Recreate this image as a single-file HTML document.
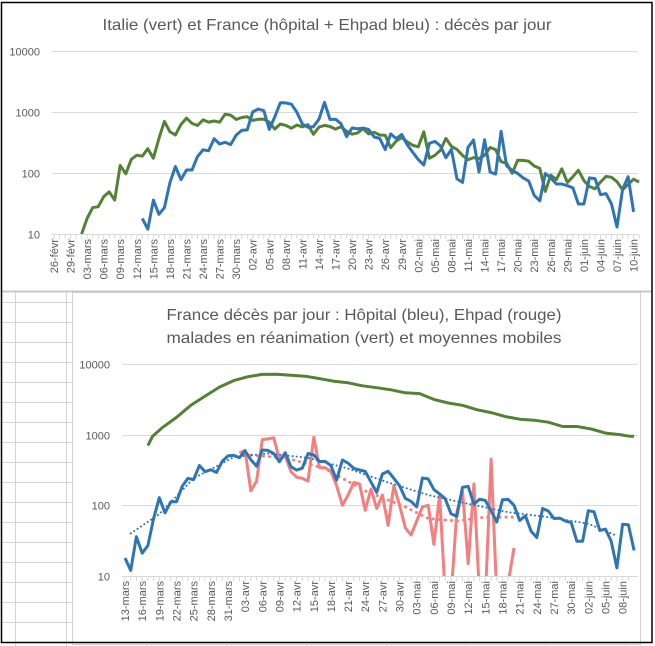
<!DOCTYPE html>
<html><head><meta charset="utf-8"><style>
html,body{margin:0;padding:0;background:#fff;}
svg{display:block;font-family:"Liberation Sans",sans-serif;}
</style></head><body>
<svg id="s" width="655" height="646" xmlns="http://www.w3.org/2000/svg">
<defs>
<clipPath id="c1"><rect x="40" y="40" width="600" height="194"/></clipPath>
<clipPath id="c2"><rect x="110" y="350" width="530" height="226"/></clipPath>
</defs>
<rect x="0" y="0" width="655" height="646" fill="#fff"/>
<g id="bg" stroke="#d4d4d4" stroke-width="1"></g>
<rect x="72.5" y="292.5" width="568" height="352" fill="#fff" stroke="#d0d0d0"/>
<rect x="2.5" y="2.5" width="650" height="289" fill="#fff" stroke="none"/>
<line x1="2" y1="291.5" x2="652" y2="291.5" stroke="#c8c8c8" stroke-width="2"/>
<rect x="1.5" y="2.5" width="650.5" height="640" fill="none" stroke="#000" stroke-width="1.5"/>
<text x="327" y="30" text-anchor="middle" font-size="16" fill="#595959" textLength="449" lengthAdjust="spacingAndGlyphs">Italie (vert) et France (hôpital + Ehpad bleu) : décès par jour</text>
<text x="364" y="320" text-anchor="middle" font-size="16" fill="#595959" textLength="395" lengthAdjust="spacingAndGlyphs">France décès par jour : Hôpital (bleu), Ehpad (rouge)</text>
<text x="364" y="343" text-anchor="middle" font-size="16" fill="#595959" textLength="395" lengthAdjust="spacingAndGlyphs">malades en réanimation (vert) et moyennes mobiles</text>
<g id="g"></g>
</svg>
<script>
var NS="http://www.w3.org/2000/svg",S=document.getElementById('g'),BG=document.getElementById('bg');
function el(p,t,a,txt){var e=document.createElementNS(NS,t);for(var k in a)e.setAttribute(k,a[k]);if(txt!=null)e.textContent=txt;p.appendChild(e);return e;}
for(var y=302;y<646;y+=20)el(BG,'line',{x1:0,y1:y+.5,x2:72,y2:y+.5});
[15,66].forEach(function(x){el(BG,'line',{x1:x+.5,y1:292,x2:x+.5,y2:646});});
[146,226,306,386,465,545,625].forEach(function(x){el(BG,'line',{x1:x+.5,y1:643,x2:x+.5,y2:646});});
var cum=[0,31,60,91,121,152];
function doy(m,d){return cum[m-1]+d;}
var mn={3:'mars',4:'avr',5:'mai',6:'juin',2:'févr'};
function lab(m,d){return (d<10?'0':'')+d+'-'+mn[m];}
function dateOf(n){for(var m=6;m>=1;m--)if(n>cum[m-1])return [m,n-cum[m-1]];}
var X1=function(n){return 54+(n-57)*5.52},Y1=function(v){return 234-61*Math.log10(Math.max(v,1)/10)};
var X2=function(n){return 125+(n-73)*5.72},Y2=function(v){return 576-70.7*Math.log10(Math.max(v,1)/10)};
function axes(X,Y,y0,start,end,xl,xr,lx){
 [10,100,1000,10000].forEach(function(v){var y=Math.round(Y(v))+.5;
  el(S,'line',{x1:xl,y1:y,x2:xr,y2:y,stroke:'#d9d9d9','stroke-width':1});
  el(S,'text',{x:lx,y:y+4,'text-anchor':'end','font-size':11,fill:'#595959'},String(v));});
 for(var n=start;n<=end;n++){var x=X(n);el(S,'line',{x1:x,y1:y0,x2:x,y2:y0+5,stroke:'#d9d9d9'});}
 for(var n=start;n<=end;n+=3){var d=dateOf(n),x=X(n)+4;
  el(S,'text',{x:0,y:0,transform:'translate('+x+','+(y0+5)+') rotate(-90)','text-anchor':'end','font-size':11,fill:'#595959'},lab(d[0],d[1]));}
}
axes(X1,Y1,234,57,163,52,638,40);
axes(X2,Y2,576,73,161,122,638,110);
function line(X,Y,start,vals,col,w,clip,dash){var p=[];vals.forEach(function(v,i){if(v!=null)p.push(X(start+i).toFixed(1)+','+Y(v).toFixed(1));});
 var a={points:p.join(' '),fill:'none',stroke:col,'stroke-width':w,'stroke-linejoin':'round','clip-path':'url(#'+clip+')'};if(dash){a['stroke-dasharray']=dash;a['stroke-linecap']='round';}
 el(S,'polyline',a);}
var it=[10,18,27,28,41,49,36,133,97,168,196,189,250,175,368,700,475,420,627,793,651,601,743,683,712,680,919,889,756,812,837,727,760,766,681,525,636,604,542,610,570,619,431,566,602,578,525,575,482,433,454,534,437,464,420,415,260,333,382,323,285,269,474,174,195,236,369,274,243,194,165,179,172,195,262,242,153,145,99,162,161,156,130,119,50,92,78,117,70,87,111,75,60,55,71,88,85,72,53,65,79,71];
var fr1=[18,12,36,21,27,69,128,78,112,112,186,240,231,365,299,319,292,418,499,509,1000,1120,1050,518,833,1417,1410,1340,987,635,561,574,762,1438,753,761,642,395,547,531,544,516,389,369,242,437,367,427,289,218,166,135,306,330,278,178,243,80,70,263,348,104,351,104,96,483,131,110,98,83,74,43,35,98,83,66,66,62,57,31,31,83,81,44,46,31,13,54,87,23];
var GR='#548235',BL='#2e75b6',RD='#f47f7f';
line(X1,Y1,doy(3,2),it,GR,3,'c1');
line(X1,Y1,doy(3,13),fr1,BL,3,'c1');
var gk=[[77,700],[78,950],[80,1250],[83,1750],[86,2600],[89,3500],[92,4700],[95,5800],[98,6600],[101,7100],[104,7150],[107,6900],[110,6700],[113,6200],[116,5700],[119,5400],[122,4900],[125,4600],[128,4300],[131,3900],[134,3800],[137,3150],[140,2800],[143,2600],[146,2250],[149,2050],[152,1800],[155,1650],[158,1600],[161,1500],[164,1300],[167,1300],[170,1200],[173,1050],[176,1000],[178,950],[179,950]];
var gpts=[];gk.forEach(function(k){var t=(k[0]-77)/(179-77);gpts.push(X2(77+t*(162-77)).toFixed(1)+','+Y2(k[1]).toFixed(1));});
el(S,'polyline',{points:gpts.join(' '),fill:'none',stroke:GR,'stroke-width':3,'stroke-linejoin':'round'});
var fr2=[18,12,36,21,27,65,128,78,112,112,186,240,231,365,299,319,292,418,499,509,471,588,441,357,605,597,541,412,554,353,315,335,541,514,417,418,364,227,437,394,333,316,303,213,152,277,304,241,189,125,114,95,243,236,167,145,123,76,70,180,185,104,122,117,84,58,120,121,100,61,71,43,35,90,83,65,66,60,57,31,31,84,81,44,46,31,13,54,53,23];
var rd=[550,600,160,220,850,870,900,450,500,300,250,240,220,920,340,340,300,190,100,140,210,200,85,170,90,140,52,190,100,48,38,60,95,100,28,140,5,5,80,160,15,200,5,5,450,5,null,8,25];
line(X2,Y2,doy(4,2),rd,RD,3,'c2');
var rm=[[doy(4,3),520],[doy(4,10),470],[doy(4,17),330],[doy(4,24),160],[doy(5,1),95],[doy(5,5),65],[doy(5,10),60],[doy(5,15),68],[doy(5,21),68]];
el(S,'polyline',{points:rm.map(function(k){return X2(k[0]).toFixed(1)+','+Y2(k[1]).toFixed(1)}).join(' '),fill:'none',stroke:RD,'stroke-width':3,'stroke-dasharray':'0.1 6','stroke-linecap':'round'});
line(X2,Y2,doy(3,13),fr2,BL,3,'c2');
var bm=[[doy(3,14),40],[doy(3,19),75],[doy(3,25),240],[doy(4,1),480],[doy(4,7),540],[doy(4,14),470],[doy(4,21),330],[doy(4,28),210],[doy(5,5),140],[doy(5,12),105],[doy(5,19),80],[doy(5,26),68],[doy(6,2),55],[doy(6,7),37]];
el(S,'polyline',{points:bm.map(function(k){return X2(k[0]).toFixed(1)+','+Y2(k[1]).toFixed(1)}).join(' '),fill:'none',stroke:BL,'stroke-width':2,'stroke-dasharray':'0.1 4','stroke-linecap':'round'});
</script>
</body></html>
